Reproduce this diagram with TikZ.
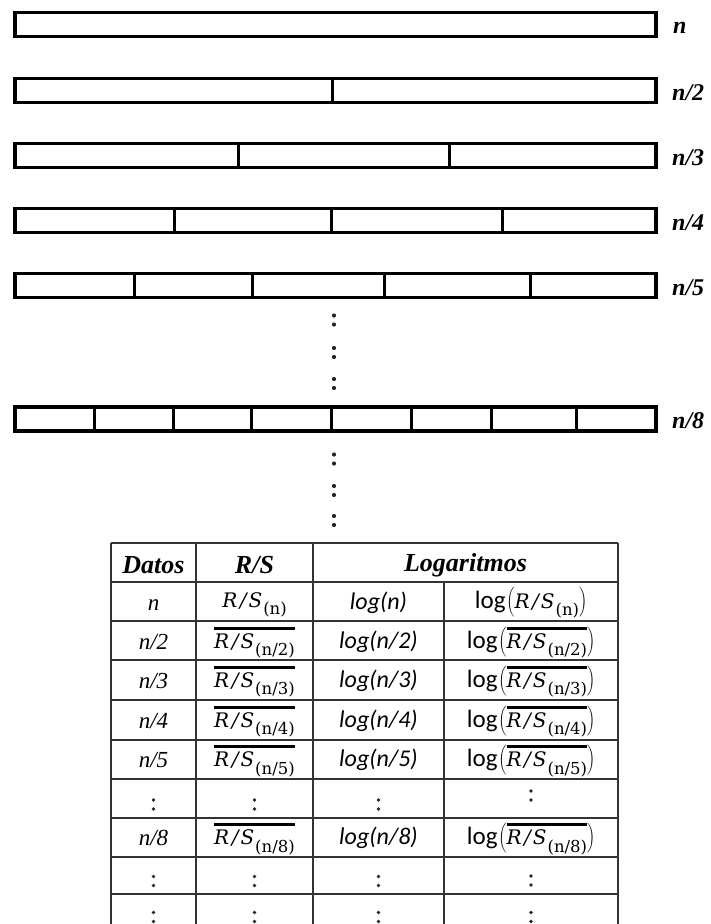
\RequirePackage{fix-cm}
\documentclass[tikz,border=0pt]{standalone}
\usepackage{fontspec}
\setmainfont{Liberation Serif}
\newfontfamily\calfont{Carlito}
\newfontfamily\rsfont{DejaVu Serif}

% overline drawn as a heavy rule above a box
\newcommand\ovl[1]{\vbox{\hrule height 3.2pt\kern 3.2pt\hbox{#1}}}
% R/S with its subset-size subscript
\newcommand\rsval[1]{{\rsfont\itshape\fontsize{20}{23}\selectfont R\kern2.5pt/\kern2pt S\kern1pt}\raisebox{-7.5pt}{\rsfont\fontsize{16.5}{18}\selectfont(#1)}}
\newcommand\rsmean[1]{\ovl{\rsval{#1}}}
% log( ... ) with parentheses sized to the content
\newcommand\logwrap[1]{{\calfont log}\kern1pt$\left(\hbox{#1}\right)$}

\begin{document}
\begin{tikzpicture}[x=1pt,y=-1pt,
  barbox/.style={draw=black, line width=3.8pt},
  cut/.style={draw=black, line width=3pt},
  barlabel/.style={anchor=base west, inner sep=0pt, font=\fontsize{24}{28}\selectfont\bfseries\itshape},
  dotmark/.style={fill=black!85, draw=none},
  tabrule/.style={draw=black!80, line width=1.8pt},
  head/.style={anchor=base, inner sep=0pt, font=\fontsize{26}{30}\selectfont\bfseries\itshape},
  datacell/.style={anchor=base, inner sep=0pt, font=\fontsize{23}{27}\selectfont\itshape},
  rscell/.style={anchor=base, inner sep=0pt, font=\fontsize{24}{28}\selectfont},
  logcell/.style={anchor=base, inner sep=0pt, font=\fontsize{24}{28}\selectfont\calfont\itshape},
  lrscell/.style={anchor=base, inner sep=0pt, font=\fontsize{25}{29}\selectfont}]
\useasboundingbox (0,0) rectangle (711,924);

% ---- the series and its subdivisions ----
\draw[barbox] (15,12.5) rectangle (656,36.5);
\node[barlabel] (lab1) at (673,33) {n};
\foreach \yc/\cuts/\k [count=\i from 2] in
  {90.5/{332}/2, 155.5/{238,449}/3, 220.5/{174,331,502}/4,
   285.5/{134,252,384,530}/5, 419/{94,173,251,331,411,491,576}/8} {
  \draw[barbox] (15,\yc-12) rectangle (656,\yc+12);
  \foreach \x in \cuts \draw[cut] (\x,\yc-12) -- (\x,\yc+12);
  \node[barlabel] (lab\i) at (672,\yc+9.5) {n/\k};
}
% vertical ellipses between the bars
\foreach \y in {320,352.5,383.5,459,490.5,520.5}
  \fill[dotmark] (334,\y-4.5) circle[radius=2.1pt] (334,\y+4.5) circle[radius=2.1pt];

% ---- table ----
\foreach \y in {543,582,621,660,700,740,779,818,857,894}
  \draw[tabrule] (111,\y) -- (618,\y);
\foreach \x in {111,196,313,618}
  \draw[tabrule] (\x,543) -- (\x,924);
\draw[tabrule] (444,582) -- (444,924);

\node[head] (hdat) at (153.5,573) {Datos};
\node[head] (hrs) at (254.5,573) {R/S};
\node[head] (hlog) at (465.5,571) {Logaritmos};

% row n
\node[datacell] (d1) at (153.5,610) {n};
\node[rscell] (s1) at (254.5,607) {\rsval{n}};
\node[logcell] (l1) at (378.5,609) {log(n)};
\node[lrscell] (q1) at (531,608) {\logwrap{\rsval{n}}};
% rows with averaged R/S
\foreach \k/\yb [count=\i from 2] in {2/648, 3/687, 4/727, 5/766.5, 8/844.5} {
  \node[datacell] (d\i) at (153.5,\yb+1) {n/\k};
  \node[rscell] (s\i) at (254.5,\yb) {\rsmean{n/\k}};
  \node[logcell] (l\i) at (378.5,\yb) {log(n/\k)};
  \node[lrscell] (q\i) at (531,\yb) {\logwrap{\rsmean{n/\k}}};
}
% continuation marks inside the table
\foreach \x/\y in {153.5/804.5, 254.5/804.5, 378.5/804.5, 531/795.5,
                   153.5/881, 254.5/881, 378.5/881, 531/880.5,
                   153.5/917, 254.5/917, 378.5/917, 531/917}
  \fill[dotmark] (\x,\y-4.5) circle[radius=1.8pt] (\x,\y+4.5) circle[radius=1.8pt];
\end{tikzpicture}
\end{document}
